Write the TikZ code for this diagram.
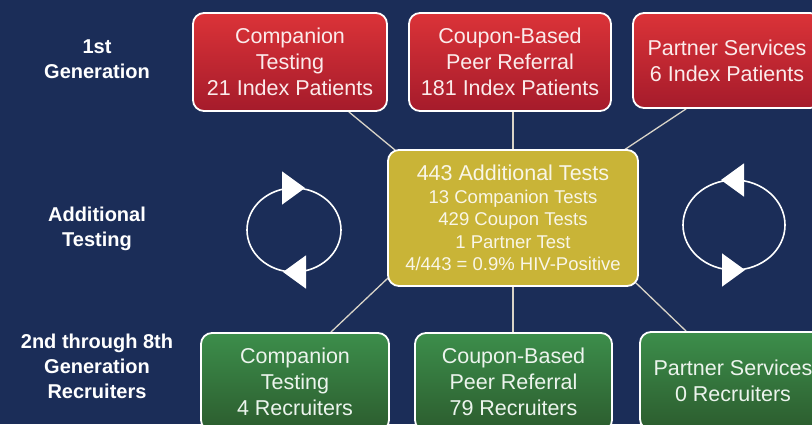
\documentclass[tikz,border=0pt]{standalone}
\usepackage{fontspec}
\setmainfont{Liberation Sans}
\usetikzlibrary{arrows.meta,calc,backgrounds,decorations.markings}
\definecolor{navy}{HTML}{1B2D58}
\definecolor{redtop}{HTML}{DB3338}
\definecolor{redbot}{HTML}{A51B2B}
\definecolor{gold}{HTML}{C9B437}
\definecolor{greentop}{HTML}{3C8E4B}
\definecolor{greenbot}{HTML}{2C5C2E}
\definecolor{linkgrey}{HTML}{D9D4C8}
\tikzset{
  genbox/.style  = {rectangle, rounded corners=11pt, draw=white, line width=1.8pt,
                    align=center, inner sep=0pt, font=\fontsize{21.5}{26}\selectfont},
  idxbox/.style  = {genbox, top color=redtop, bottom color=redbot, text=white!90!redtop},
  recbox/.style  = {genbox, top color=greentop, bottom color=greenbot, text=white!90!greentop},
  testbox/.style = {genbox, fill=gold, text=white!88!gold, font=\fontsize{18.5}{22.5}\selectfont},
  rowlbl/.style  = {font=\bfseries\fontsize{20}{25}\selectfont, text=white, align=center},
  link/.style    = {draw=linkgrey, line width=1.3pt},
  loop/.style    = {draw=white, line width=1.6pt},
  looptip/.tip   = {Triangle[length=23pt, width=33pt]},
  % clockwise loop: tips point right on top, left below
  cwloop/.style  = {loop, postaction=decorate, decoration={markings,
                    mark=at position 0.25 with {\arrowreversed[xshift=-11pt]{looptip}},
                    mark=at position 0.75 with {\arrowreversed[xshift=-11pt]{looptip}}}},
  % counter-clockwise loop: tips point left on top, right below
  ccwloop/.style = {loop, postaction=decorate, decoration={markings,
                    mark=at position 0.25 with {\arrow[xshift=13pt]{looptip}},
                    mark=at position 0.75 with {\arrow[xshift=11pt]{looptip}}}},
}

\begin{document}
\begin{tikzpicture}[x=1pt, y=1pt]
  \useasboundingbox (0,0) rectangle (812,-424);
  \clip (0,0) rectangle (812,-424);

  % row labels
  \node[rowlbl] (lblgen1) at (97,-59.5) {1st\\Generation};
  \node[rowlbl] (lbladd)  at (97,-228.5) {Additional\\Testing};
  \node[rowlbl] (lblgen2) at (97,-366) {2nd through 8th\\Generation\\Recruiters};

  % first generation
  \node[idxbox, minimum width=194pt, minimum height=98pt] (comp1) at (290,-62)
    {Companion\\Testing\\21 Index Patients};
  \node[idxbox, minimum width=202pt, minimum height=98pt] (coup1) at (510,-62)
    {Coupon-Based\\Peer Referral\\181 Index Patients};
  \node[idxbox, minimum width=188pt, minimum height=95pt] (part1) at (727,-60.5)
    {Partner Services\\6 Index Patients};

  % additional testing
  \node[testbox, minimum width=250pt, minimum height=136pt] (tests) at (513,-218)
    {{\fontsize{21.5}{22.5}\selectfont 443 Additional Tests}\\13 Companion Tests\\429 Coupon Tests\\
     1 Partner Test\\4/443 = 0.9\% HIV-Positive};

  % later generations
  \node[recbox, minimum width=188pt, minimum height=98pt] (comp2) at (295,-382)
    {Companion\\Testing\\4 Recruiters};
  \node[recbox, minimum width=197pt, minimum height=98pt] (coup2) at (513.5,-382)
    {Coupon-Based\\Peer Referral\\79 Recruiters};
  \node[recbox, minimum width=186pt, minimum height=98pt] (part2) at (733,-381)
    {Partner Services\\0 Recruiters};

  \begin{scope}[on background layer]
    \fill[navy] (0,0) rectangle (812,-424);
    \draw[link] ($(comp1.south east)+(-39,0)$) -- ($(tests.north west)+(8,-1)$);
    \draw[link] (tests.north |- coup1.south) -- (tests.north);
    \draw[link] ($(part1.south west)+(54,0)$) -- ($(tests.north east)+(-15,-1)$);
    \draw[link] ($(tests.south west)+(1,9)$) -- ($(comp2.north east)+(-59,0)$);
    \draw[link] (tests.south) -- (tests.south |- coup2.north);
    \draw[link] ($(tests.south east)+(-3,4)$) -- ($(part2.north west)+(47,0)$);
  \end{scope}

  % testing loops
  \coordinate (loopL) at (294,-230);
  \coordinate (loopR) at (734,-225);
  \draw[cwloop] (loopL) ellipse[x radius=47, y radius=42];
  \draw[ccwloop] (loopR) ellipse[x radius=51, y radius=45];
\end{tikzpicture}
\end{document}
